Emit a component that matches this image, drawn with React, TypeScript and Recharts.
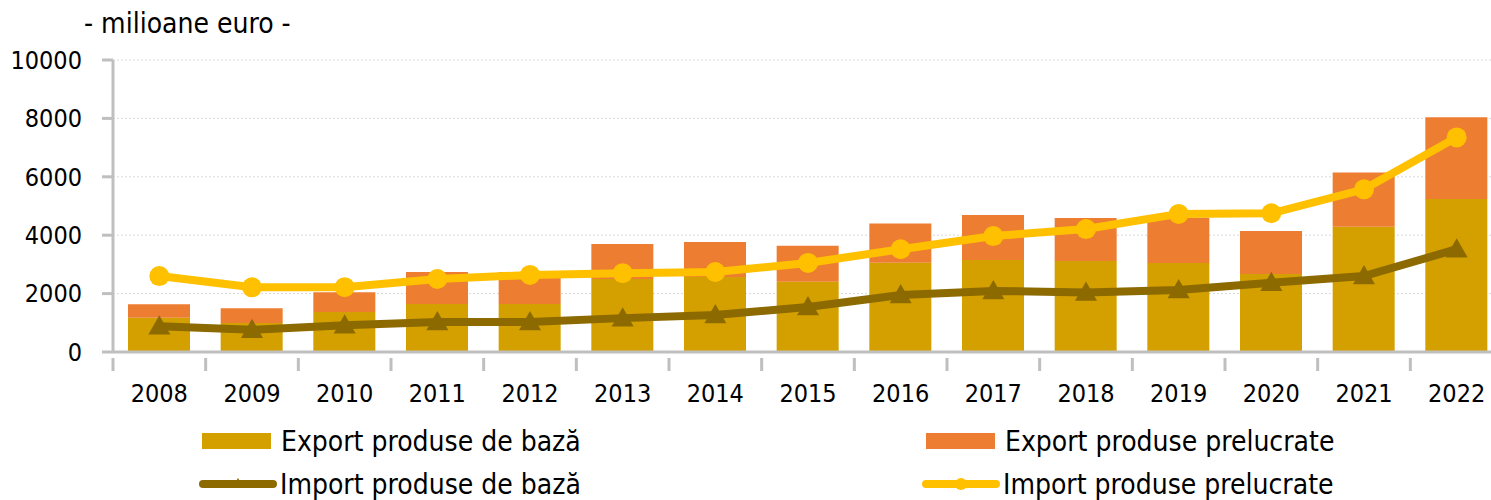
import { ComposedChart, Bar, Line, XAxis, YAxis, CartesianGrid } from "recharts";

const years = ["2008", "2009", "2010", "2011", "2012", "2013", "2014", "2015", "2016", "2017", "2018", "2019", "2020", "2021", "2022"];
const exportBaza = [1175, 990, 1370, 1640, 1640, 2500, 2570, 2410, 3060, 3150, 3120, 3050, 2670, 4290, 5240];
const exportTotal = [1633, 1495, 2050, 2740, 2740, 3700, 3770, 3640, 4400, 4690, 4590, 4600, 4140, 6150, 8040];
const importBaza = [880, 760, 920, 1030, 1030, 1160, 1270, 1540, 1950, 2090, 2040, 2120, 2370, 2600, 3520];
const importPrelucrate = [2600, 2215, 2220, 2500, 2640, 2700, 2740, 3050, 3520, 3970, 4210, 4730, 4750, 5570, 7350];
const yTicks = [0, 2000, 4000, 6000, 8000, 10000];

const data = years.map((year, i) => ({
  year,
  exportBaza: exportBaza[i],
  exportPrelucrate: exportTotal[i] - exportBaza[i],
  importBaza: importBaza[i],
  importPrelucrate: importPrelucrate[i],
}));

const FONT = "'DejaVu Sans Condensed', 'DejaVu Sans', sans-serif";
const AXIS = "#BFBFBF";
const C_BAZA = "#D4A000";
const C_PREL = "#ED7D31";
const C_IMP_BAZA = "#8C6A00";
const C_IMP_PREL = "#FFC000";

const CHART_W = 1510;
const PLOT_LEFT = 113;
const PLOT_RIGHT = 1503;
const BAND = (PLOT_RIGHT - PLOT_LEFT) / years.length;

function XTick({ x, y, payload }: any) {
  return (
    <g>
      <line x1={x - BAND / 2} x2={x - BAND / 2} y1={y - 2} y2={y + 11} stroke={AXIS} strokeWidth={3} />
      <text x={x} y={y + 33} textAnchor="middle" dominantBaseline="central" fontFamily={FONT} fontSize={25} fill="#000">
        {payload.value}
      </text>
    </g>
  );
}

function TriangleDot({ cx, cy }: any) {
  if (cx == null || cy == null) return null;
  const s = 11;
  return <path d={`M${cx},${cy - s} L${cx + s},${cy + s * 0.75} L${cx - s},${cy + s * 0.75} Z`} fill={C_IMP_BAZA} />;
}

const legendItems = [
  { name: "Export produse de bază", color: C_BAZA, kind: "bar", x: 201, y: 441 },
  { name: "Export produse prelucrate", color: C_PREL, kind: "bar", x: 925, y: 441 },
  { name: "Import produse de bază", color: C_IMP_BAZA, kind: "tri", x: 199, y: 484 },
  { name: "Import produse prelucrate", color: C_IMP_PREL, kind: "circle", x: 922, y: 484 },
];

function LegendBlock() {
  return (
    <>
      {legendItems.map((item) => (
        <div
          key={item.name}
          style={{ position: "absolute", left: item.x, top: item.y - 17, height: 34, display: "flex", alignItems: "center" }}
        >
          <svg width={78} height={34}>
            {item.kind === "bar" ? (
              <rect x={1} y={9} width={69} height={16} fill={item.color} />
            ) : (
              <>
                <line x1={4} x2={74} y1={17} y2={17} stroke={item.color} strokeWidth={8} strokeLinecap="round" />
                {item.kind === "circle" ? (
                  <circle cx={39} cy={17} r={6} fill={item.color} />
                ) : (
                  <path d="M39,11 L45,21 L33,21 Z" fill={item.color} />
                )}
              </>
            )}
          </svg>
          <span style={{ fontFamily: FONT, fontSize: 28, color: "#000", marginLeft: item.kind === "bar" ? 2 : 3, whiteSpace: "nowrap" }}>
            {item.name}
          </span>
        </div>
      ))}
    </>
  );
}

export default function App() {
  return (
    <div style={{ position: "absolute", left: 0, top: 0, width: 1491, height: 500, overflow: "hidden", background: "#fff" }}>
      <div style={{ position: "absolute", left: 84, top: 8, fontFamily: FONT, fontSize: 28, lineHeight: "32px", color: "#000", whiteSpace: "nowrap" }}>
        - milioane euro -
      </div>
      <ComposedChart
        width={CHART_W}
        height={500}
        data={data}
        margin={{ top: 60, right: CHART_W - PLOT_RIGHT, bottom: 98, left: PLOT_LEFT - 100 }}
        barSize={62}
      >
        <CartesianGrid vertical={false} stroke="#D9D9D9" strokeDasharray="2 2" />
        <XAxis
          dataKey="year"
          height={50}
          axisLine={{ stroke: AXIS, strokeWidth: 3 }}
          tickLine={false}
          tick={<XTick />}
          interval={0}
        />
        <YAxis
          width={100}
          domain={[0, 10000]}
          ticks={yTicks}
          interval={0}
          axisLine={{ stroke: AXIS, strokeWidth: 3 }}
          tickLine={{ stroke: AXIS, strokeWidth: 3 }}
          tickSize={11}
          tickMargin={20}
          tick={{ fontFamily: FONT, fontSize: 25, fill: "#000" }}
        />
        <Bar dataKey="exportBaza" name="Export produse de bază" stackId="a" fill={C_BAZA} isAnimationActive={false} />
        <Bar dataKey="exportPrelucrate" name="Export produse prelucrate" stackId="a" fill={C_PREL} isAnimationActive={false} />
        <Line
          dataKey="importBaza"
          name="Import produse de bază"
          stroke={C_IMP_BAZA}
          strokeWidth={8}
          dot={<TriangleDot />}
          activeDot={false}
          isAnimationActive={false}
        />
        <Line
          dataKey="importPrelucrate"
          name="Import produse prelucrate"
          stroke={C_IMP_PREL}
          strokeWidth={8}
          dot={{ r: 10, fill: C_IMP_PREL, stroke: C_IMP_PREL, strokeWidth: 0 }}
          activeDot={false}
          isAnimationActive={false}
        />
      </ComposedChart>
      <LegendBlock />
    </div>
  );
}
